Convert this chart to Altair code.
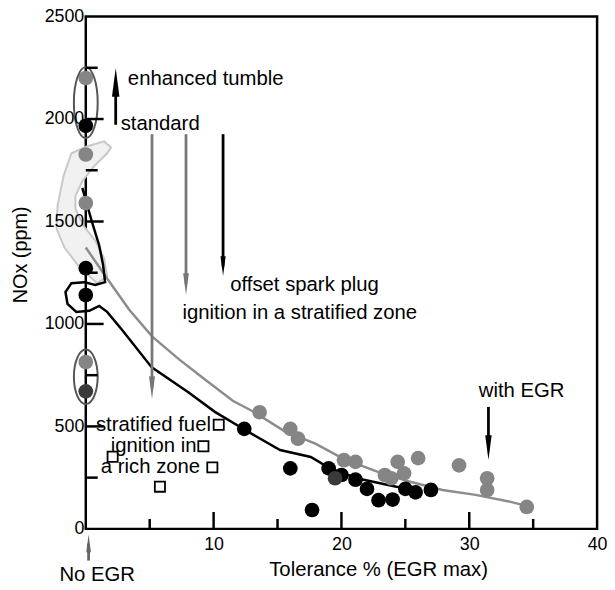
import altair as alt
import pandas as pd

FONT = "Liberation Sans"

# ---------------- data ----------------
# points measured without EGR (on the y axis)
axis_x = [0, 0, 0, 0, 0, 0, 0, 0]
axis_y = [2200, 1967, 1827, 1590, 1272, 1141, 814, 671]
axis_g = ["gray", "black", "gray", "gray", "black", "black", "gray", "dark"]

# points with EGR
gray_x = [13.6, 16.0, 16.6, 20.2, 21.1, 23.4, 23.9, 24.4, 24.9, 26.0, 29.2, 31.4, 31.4, 34.5]
gray_y = [569, 488, 440, 335, 327, 263, 247, 327, 271, 345, 310, 247, 190, 107]
black_x = [12.4, 16.0, 17.7, 19.0, 20.0, 21.1, 22.0, 22.9, 24.0, 25.0, 25.8, 27.0]
black_y = [488, 295, 92, 295, 263, 240, 195, 140, 143, 195, 178, 190]
dark_x = [19.5]
dark_y = [247]

# stratified fuel (open squares)
sq_x = [10.4, 9.2, 2.1, 9.9, 5.8]
sq_y = [508, 403, 352, 300, 206]

# gray trend curve (enhanced tumble)
gline_x = [0.0, 1.6, 3.4, 5.2, 7.3, 9.3, 11.5, 13.2, 15.5, 18.0, 20.2, 22.8, 25.3, 27.9, 30.5, 33.1, 34.6]
gline_y = [1373, 1228, 1069, 938, 827, 730, 625, 569, 478, 415, 340, 279, 231, 190, 166, 134, 110]

# black trend curve (standard), with its hand-drawn loop near the axis
bline_x = [-0.27, 0.5, 1.05, 1.36, 1.51, 0.74, -0.12, -1.12, -1.59, -1.43, -0.74, 0.27, 1.05,
           1.67, 2.83, 5.16, 8.02, 10.1, 12.7, 15.2, 17.6, 19.1, 21.2, 24.3, 25.3]
bline_y = [1664, 1494, 1383, 1286, 1204, 1190, 1204, 1199, 1156, 1098, 1059, 1064, 1088,
           1059, 972, 788, 667, 571, 474, 385, 351, 295, 247, 206, 198]

# light gray outlined zone near the axis
blob_x = [1.43, 0.12, -1.12, -1.74, -2.21, -2.29, -1.67, -0.5, 0.89, 1.67, 1.43, 0.74,
          -0.19, -0.81, -0.81, -0.27, 0.66, 1.67, 1.98]
blob_y = [1891, 1867, 1833, 1722, 1577, 1465, 1373, 1277, 1199, 1233, 1320, 1407,
          1480, 1562, 1625, 1697, 1770, 1833, 1862]

# ellipses around groups of axis points
ell_x = [0, 0]
ell_y = [2080, 742]

# arrows
arr_x = [2.34, 5.18, 7.84, 10.74, 31.5, 0.22]
arr_y0 = [1972, 1926, 1926, 1926, 595, -155]
arr_yh = [2179, 689, 1194, 1282, 397, -71]
arr_size = [841, 529, 484, 400, 625, 324]
arr_dir = ["up", "down", "down", "down", "down", "up"]
arr_col = ["black", "#777777", "#777777", "black", "black", "#666666"]

# annotations
lab_text = ["enhanced tumble", "standard", "offset spark plug", "ignition in a stratified zone",
            "stratified fuel", "ignition in", "a rich zone"]
lab_x = [3.29, 2.73, 11.3, 7.56, 0.79, 1.95, 1.18]
lab_y = [2196, 1975, 1190, 1053, 508, 403, 300]
clab_text = ["with EGR", "No EGR"]
clab_x = [34.1, 0.89]
clab_y = [674, -227]

# axis ticks
xt_major = [10, 20, 30]
xt_minor = [5, 15, 25, 35]
yt_major = [500, 1000, 1500, 2000]
yt_minor = [250, 750, 1250, 1750, 2250]

W, H = 516, 517

xs = alt.Scale(domain=[0, 40], nice=False, zero=False)
ys = alt.Scale(domain=[0, 2500], nice=False, zero=False)

X = alt.X("x:Q", scale=xs, axis=alt.Axis(
    values=[10, 20, 30, 40], title="Tolerance % (EGR max)", ticks=False, domain=False,
    grid=False, labelFontSize=18, labelPadding=7, labelFlush=False, labelColor="black",
    format="d", titleFontSize=20.5, titleFontWeight="normal", titleColor="black",
    titleX=295, titleY=41, titleBaseline="middle", titleAlign="center", zindex=1))
Y = alt.Y("y:Q", scale=ys, axis=alt.Axis(
    values=[0, 500, 1000, 1500, 2000, 2500], title="NOx (ppm)", ticks=False, domain=False,
    grid=False, labelFontSize=18, labelPadding=2, labelFlush=False, labelColor="black",
    format="d", titleFontSize=20, titleFontWeight="normal", titleColor="black",
    titleX=-66, titleY=240, titleBaseline="middle", titleAlign="center", zindex=1))

blob = pd.DataFrame({"x": blob_x, "y": blob_y, "o": range(len(blob_x))})
gline = pd.DataFrame({"x": gline_x, "y": gline_y, "o": range(len(gline_x))})
bline = pd.DataFrame({"x": bline_x, "y": bline_y, "o": range(len(bline_x))})

pts = pd.DataFrame({
    "x": gray_x + black_x + dark_x + axis_x,
    "y": gray_y + black_y + dark_y + axis_y,
    "g": ["gray"] * len(gray_x) + ["black"] * len(black_x) + ["dark"] * len(dark_x) + axis_g,
})
pts["k"] = pts["g"].map({"gray": 0, "black": 1, "dark": 2})
sq = pd.DataFrame({"x": sq_x, "y": sq_y})

arrows = pd.DataFrame({"x": arr_x, "y": arr_y0, "y2": arr_yh, "s": arr_size,
                       "d": arr_dir, "c": arr_col})
labs = pd.DataFrame({"x": lab_x, "y": lab_y, "t": lab_text})
clabs = pd.DataFrame({"x": clab_x, "y": clab_y, "t": clab_text})

layers = []

layers.append(alt.Chart(blob).mark_line(
    fill="#f1f1f1", stroke="#c8c8c8", strokeWidth=2, interpolate="linear-closed"
).encode(x=X, y=Y, order="o:Q"))

layers.append(alt.Chart(gline).mark_line(color="#8c8c8c", strokeWidth=2.5).encode(
    x=X, y=Y, order="o:Q"))
layers.append(alt.Chart(bline).mark_line(color="black", strokeWidth=2.5).encode(
    x=X, y=Y, order="o:Q"))

layers.append(alt.Chart(pts).mark_circle(size=220, opacity=1).encode(
    x=X, y=Y,
    color=alt.Color("g:N", scale=alt.Scale(domain=["gray", "black", "dark"],
                                           range=["#858585", "#000000", "#3a3a3a"]),
                    legend=None),
    order="k:Q"))

layers.append(alt.Chart(sq).mark_point(shape="square", size=105, filled=True, fill="white",
                                       stroke="black", strokeWidth=1.8, opacity=1).encode(
    x=X, y=Y))

ell1 = "M0,-1A0.335,1 0 1,1 0,1A0.335,1 0 1,1 0,-1Z"
ell2 = "M0,-1A0.436,1 0 1,1 0,1A0.436,1 0 1,1 0,-1Z"
layers.append(alt.Chart(pd.DataFrame({"x": ell_x[:1], "y": ell_y[:1]})).mark_point(
    shape=ell1, size=5141, filled=False, stroke="#555555", strokeWidth=2, opacity=1).encode(
    x=X, y=Y))
layers.append(alt.Chart(pd.DataFrame({"x": ell_x[1:], "y": ell_y[1:]})).mark_point(
    shape=ell2, size=3025, filled=False, stroke="#555555", strokeWidth=2, opacity=1).encode(
    x=X, y=Y))

# axis ticks pointing inward
layers.append(alt.Chart(pd.DataFrame({"x": xt_major})).mark_rule(color="black", strokeWidth=2.5).encode(
    x=X, y=alt.value(H), y2=alt.value(H - 17)))
layers.append(alt.Chart(pd.DataFrame({"x": xt_minor})).mark_rule(color="black", strokeWidth=2.5).encode(
    x=X, y=alt.value(H), y2=alt.value(H - 10)))
layers.append(alt.Chart(pd.DataFrame({"y": yt_major})).mark_rule(color="black", strokeWidth=2.5).encode(
    y=Y, x=alt.value(0), x2=alt.value(18)))
layers.append(alt.Chart(pd.DataFrame({"y": yt_minor})).mark_rule(color="black", strokeWidth=2.5).encode(
    y=Y, x=alt.value(0), x2=alt.value(12)))

# arrows
up = "M0,-1L0.26,1L-0.26,1Z"
down = "M0,1L0.26,-1L-0.26,-1Z"
base = alt.Chart(arrows)
layers.append(base.mark_rule(strokeWidth=2.8).encode(
    x=X, y=Y, y2="y2:Q", color=alt.Color("c:N", scale=None)))
layers.append(base.mark_point(filled=True, opacity=1).encode(
    x=X, y=alt.Y("y2:Q", scale=ys),
    shape=alt.Shape("d:N", scale=alt.Scale(domain=["up", "down"], range=[up, down]), legend=None),
    size=alt.Size("s:Q", scale=None),
    color=alt.Color("c:N", scale=None)))

layers.append(alt.Chart(labs).mark_text(align="left", baseline="middle", font=FONT,
                                        fontSize=20.5, color="black").encode(
    x=X, y=Y, text="t:N"))
layers.append(alt.Chart(clabs).mark_text(align="center", baseline="middle", font=FONT,
                                         fontSize=20.5, color="black").encode(
    x=X, y=Y, text="t:N"))

chart = alt.layer(*layers).properties(
    width=W, height=H,
    autosize=alt.AutoSizeParams(type="none"),
    padding={"left": 78.5, "top": 6, "right": 10, "bottom": 55},
).configure(font=FONT).configure_view(stroke="black", strokeWidth=2.5)

chart.save("out.html", embed_options={"renderer": "svg", "actions": False})
